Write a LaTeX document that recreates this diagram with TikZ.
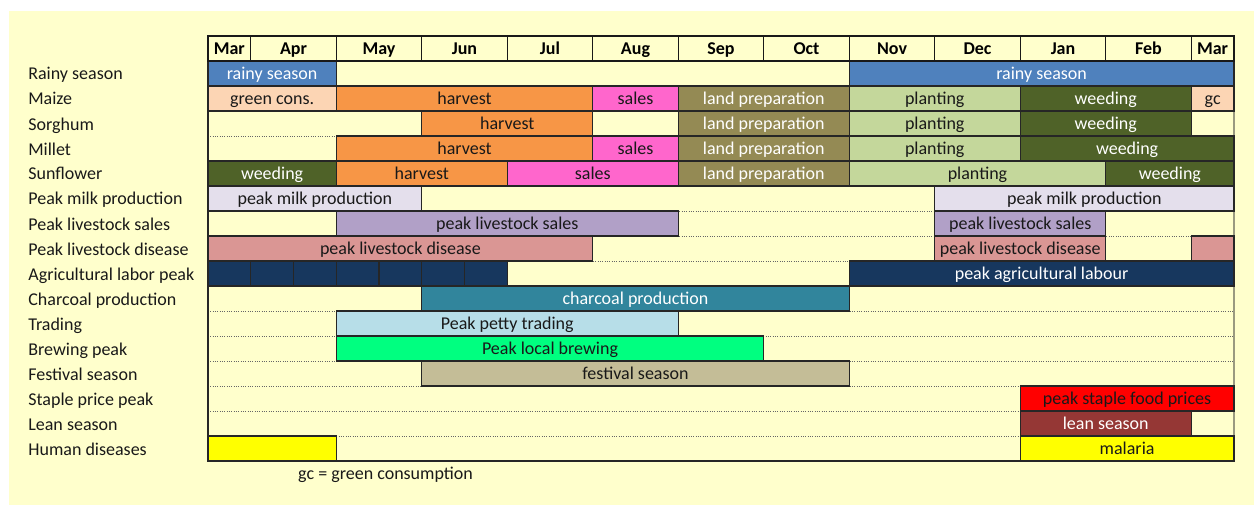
\documentclass[tikz,border=0pt]{standalone}
\usepackage{fontspec}
\setmainfont{Carlito}
\pgfmathsetlengthmacro\hw{42.75*0.6}
\pgfmathsetlengthmacro\rh{25*0.6}
\begin{document}
\begin{tikzpicture}[x=\hw, y=-\rh,
  font=\fontsize{10.8}{12}\selectfont,
  actbar/.style={draw=black!85, line width=0.7pt, minimum height=\rh, inner sep=0pt, text height=9.5pt, text depth=2.2pt, text=black!90},
  lighttext/.style={text=white},
  monthcell/.style={draw=black!90, line width=0.7pt, minimum height=\rh, inner sep=0pt, text height=9.8pt, text depth=2pt, font=\fontsize{10.8}{12}\selectfont\bfseries},
  rowlabel/.style={anchor=west, inner sep=0pt, text height=9.8pt, text depth=2pt, text=black!90}]
\definecolor{paper}{HTML}{FFFFCC}
\definecolor{rim}{HTML}{9A9A80}
\useasboundingbox (-4.8655,-1.44) rectangle (24.4678,18.76);
\fill[paper] (-4.655,-1) rectangle (24.4678,18.76);
% row lines and frame
\foreach \r in {2,...,16} \draw[gray!80!black, densely dotted, line width=0.4pt] (0,\r) -- (24,\r);
\draw[black!85, line width=0.7pt] (0,0) -- (0,17) -- (24,17);
\draw[rim, line width=1.2pt] (24,0) -- (24,17);
% rainy season
\definecolor{rainy}{HTML}{4F81BD}
\node[actbar, fill=rainy, lighttext, minimum width=3*\hw] (rain1) at (1.5,1.5) {rainy season};
\node[actbar, fill=rainy, lighttext, minimum width=9*\hw] (rain2) at (19.5,1.5) {rainy season};
% crops
\definecolor{greencons}{HTML}{FCD5B4}
\definecolor{harvest}{HTML}{F79646}
\definecolor{sales}{HTML}{FF66CC}
\definecolor{landprep}{HTML}{948A54}
\definecolor{planting}{HTML}{C4D79B}
\definecolor{weeding}{HTML}{4F6228}
\node[actbar, fill=greencons, minimum width=3*\hw] (mz1) at (1.5,2.5) {green cons.};
\node[actbar, fill=harvest, minimum width=6*\hw] (mz2) at (6,2.5) {harvest};
\node[actbar, fill=sales, minimum width=2*\hw] (mz3) at (10,2.5) {sales};
\node[actbar, fill=landprep, lighttext, minimum width=4*\hw] (mz4) at (13,2.5) {land preparation};
\node[actbar, fill=planting, minimum width=4*\hw] (mz5) at (17,2.5) {planting};
\node[actbar, fill=weeding, lighttext, minimum width=4*\hw] (mz6) at (21,2.5) {weeding};
\node[actbar, fill=greencons, minimum width=\hw] (mz7) at (23.5,2.5) {gc};
\node[actbar, fill=harvest, minimum width=4*\hw] (sg1) at (7,3.5) {harvest};
\node[actbar, fill=landprep, lighttext, minimum width=4*\hw] (sg2) at (13,3.5) {land preparation};
\node[actbar, fill=planting, minimum width=4*\hw] (sg3) at (17,3.5) {planting};
\node[actbar, fill=weeding, lighttext, minimum width=4*\hw] (sg4) at (21,3.5) {weeding};
\node[actbar, fill=harvest, minimum width=6*\hw] (ml1) at (6,4.5) {harvest};
\node[actbar, fill=sales, minimum width=2*\hw] (ml2) at (10,4.5) {sales};
\node[actbar, fill=landprep, lighttext, minimum width=4*\hw] (ml3) at (13,4.5) {land preparation};
\node[actbar, fill=planting, minimum width=4*\hw] (ml4) at (17,4.5) {planting};
\node[actbar, fill=weeding, lighttext, minimum width=5*\hw] (ml5) at (21.5,4.5) {weeding};
\node[actbar, fill=weeding, lighttext, minimum width=3*\hw] (sf1) at (1.5,5.5) {weeding};
\node[actbar, fill=harvest, minimum width=4*\hw] (sf2) at (5,5.5) {harvest};
\node[actbar, fill=sales, minimum width=4*\hw] (sf3) at (9,5.5) {sales};
\node[actbar, fill=landprep, lighttext, minimum width=4*\hw] (sf4) at (13,5.5) {land preparation};
\node[actbar, fill=planting, minimum width=6*\hw] (sf5) at (18,5.5) {planting};
\node[actbar, fill=weeding, lighttext, minimum width=3*\hw] (sf6) at (22.5,5.5) {weeding};
% livestock
\definecolor{milk}{HTML}{E4DFEC}
\definecolor{lsales}{HTML}{B1A0C7}
\definecolor{disease}{HTML}{DA9694}
\node[actbar, fill=milk, minimum width=5*\hw] (milk1) at (2.5,6.5) {peak milk production};
\node[actbar, fill=milk, minimum width=7*\hw] (milk2) at (20.5,6.5) {peak milk production};
\node[actbar, fill=lsales, minimum width=8*\hw] (ls1) at (7,7.5) {peak livestock sales};
\node[actbar, fill=lsales, minimum width=4*\hw] (ls2) at (19,7.5) {peak livestock sales};
\node[actbar, fill=disease, minimum width=9*\hw] (ld1) at (4.5,8.5) {peak livestock disease};
\node[actbar, fill=disease, minimum width=4*\hw] (ld2) at (19,8.5) {peak livestock disease};
\node[actbar, fill=disease, minimum width=\hw] (ld3) at (23.5,8.5) {};
% labour
\definecolor{labour}{HTML}{17375E}
\foreach \c in {0,...,6} \node[actbar, fill=labour, minimum width=\hw] (agr\c) at (\c+0.5,9.5) {};
\node[actbar, fill=labour, lighttext, minimum width=9*\hw] (agr7) at (19.5,9.5) {peak agricultural labour};
% other activities
\definecolor{charcoal}{HTML}{31859C}
\definecolor{trading}{HTML}{B7DEE8}
\definecolor{brewing}{HTML}{00FF80}
\definecolor{festival}{HTML}{C4BD97}
\definecolor{staple}{HTML}{FF0000}
\definecolor{lean}{HTML}{953735}
\definecolor{malaria}{HTML}{FFFF00}
\node[actbar, fill=charcoal, lighttext, minimum width=10*\hw] (coal) at (10,10.5) {charcoal production};
\node[actbar, fill=trading, minimum width=8*\hw] (trade) at (7,11.5) {Peak petty trading};
\node[actbar, fill=brewing, minimum width=10*\hw] (brew) at (8,12.5) {Peak local brewing};
\node[actbar, fill=festival, minimum width=10*\hw] (fest) at (10,13.5) {festival season};
\node[actbar, fill=staple, minimum width=5*\hw] (price) at (21.5,14.5) {peak staple food prices};
\node[actbar, fill=lean, lighttext, minimum width=4*\hw] (leanbar) at (21,15.5) {lean season};
\node[actbar, fill=malaria, minimum width=3*\hw] (hd1) at (1.5,16.5) {};
\node[actbar, fill=malaria, minimum width=5*\hw] (hd2) at (21.5,16.5) {malaria};
% months
\node[monthcell, minimum width=\hw] (mar1) at (0.5,0.5) {Mar};
\foreach \m [count=\i] in {Apr,May,Jun,Jul,Aug,Sep,Oct,Nov,Dec,Jan,Feb} \node[monthcell, minimum width=2*\hw] (m\i) at (2*\i,0.5) {\m};
\node[monthcell, minimum width=\hw] (mar2) at (23.5,0.5) {Mar};
% row labels
\foreach \l [count=\r] in {Rainy season,Maize,Sorghum,Millet,Sunflower,Peak milk production,Peak livestock sales,Peak livestock disease,Agricultural labor peak,Charcoal production,Trading,Brewing peak,Festival season,Staple price peak,Lean season,Human diseases} \node[rowlabel] (row\r) at (-4.21,\r+0.5) {\l};
\node[rowlabel, anchor=center] (gcnote) at (4.154,17.48) {gc = green consumption};
\end{tikzpicture}
\end{document}
